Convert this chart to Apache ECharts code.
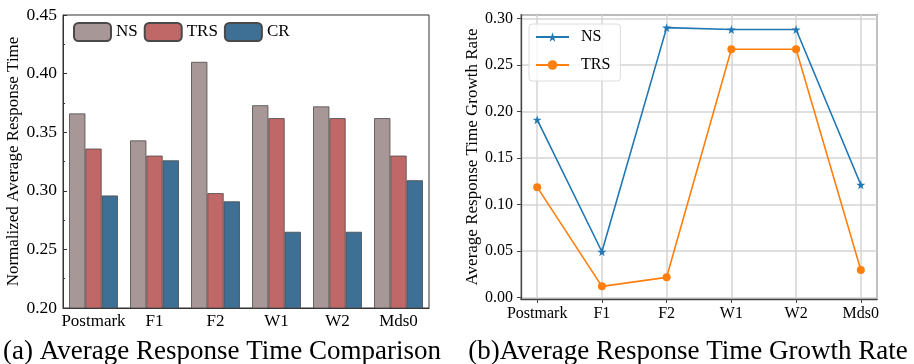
<!DOCTYPE html>
<html>
<head>
<meta charset="utf-8">
<script src="https://cdn.jsdelivr.net/npm/echarts@6/dist/echarts.min.js"></script>
<style>
  html, body { margin: 0; padding: 0; background: #fff; }
  #chart { width: 914px; height: 364px; }
</style>
</head>
<body>
<div id="chart"></div>
<script>
// data
const workloads = ['Postmark', 'F1', 'F2', 'W1', 'W2', 'Mds0'];

// (a) normalized average response time
const nsTime = [0.366, 0.343, 0.410, 0.373, 0.372, 0.362];
const trsTime = [0.336, 0.330, 0.298, 0.362, 0.362, 0.330];
const crTime = [0.296, 0.326, 0.291, 0.265, 0.265, 0.309];

// (b) growth rate
const nsGrowth = [0.191, 0.049, 0.290, 0.288, 0.288, 0.121];
const trsGrowth = [0.1185, 0.0118, 0.0215, 0.2667, 0.2667, 0.0294];

const serif = '"Liberation Serif", "Times New Roman", serif';
const starPath = 'path://M50,0 L61,35 L98,35 L68,57 L79,91 L50,70 L21,91 L32,57 L2,35 L39,35 Z';

const barStyle = (color) => ({
  color: color,
  borderColor: '#4a4a4a',
  borderWidth: 0.8,
});

// growth chart uses a value x axis so the points can sit inset from the frame
const asPoints = (arr) => arr.map((v, i) => [i, v]);
const isStep = (v, step) => Math.abs(v / step - Math.round(v / step)) < 1e-6;

const chart = echarts.init(document.getElementById('chart'));

chart.setOption({
  animation: false,
  textStyle: { fontFamily: serif },
  title: [
    {
      text: '(a) Average Response Time Comparison',
      left: 217, top: 333, textAlign: 'center',
      textStyle: { fontFamily: serif, fontSize: 27, fontWeight: 'normal', color: '#000' },
    },
    {
      text: '(b)Average Response Time Growth Rate',
      left: 683, top: 333, textAlign: 'center',
      textStyle: { fontFamily: serif, fontSize: 27, fontWeight: 'normal', color: '#000' },
    },
  ],
  legend: [
    {
      data: ['NS', 'TRS', 'CR'],
      left: 73, top: 22, padding: 0,
      itemWidth: 37, itemHeight: 18, itemGap: 6,
      textStyle: { fontFamily: serif, fontSize: 17, color: '#000' },
    },
    {
      data: ['NS ', 'TRS '],
      orient: 'vertical',
      left: 529, top: 24,
      padding: [5, 6, 8, 6],
      itemWidth: 33, itemHeight: 12, itemGap: 12,
      borderColor: '#dcdcdc', borderWidth: 1, borderRadius: 3,
      backgroundColor: 'rgba(255,255,255,0.8)',
      textStyle: { fontFamily: serif, fontSize: 16, color: '#000', padding: [0, 0, 0, 7] },
    },
  ],
  grid: [
    { left: 63, top: 15, width: 366, height: 293, show: true, borderColor: '#333', borderWidth: 1 },
    { left: 521, top: 15, width: 356, height: 284, show: true, borderColor: '#444', borderWidth: 1.3 },
  ],
  xAxis: [
    {
      gridIndex: 0,
      type: 'category',
      data: workloads,
      axisLine: { lineStyle: { color: '#333', width: 1 } },
      axisTick: { show: false },
      axisLabel: { fontFamily: serif, fontSize: 17, color: '#000', margin: 5, interval: 0 },
    },
    {
      gridIndex: 1,
      type: 'value',
      min: -0.25, max: 5.25,
      axisLine: { onZero: false, lineStyle: { color: '#444', width: 1.3 } },
      axisTick: { show: true, inside: false, length: 4, lineStyle: { color: '#444' } },
      axisLabel: {
        fontFamily: serif, fontSize: 16, color: '#000', margin: 7,
        showMinLabel: false, showMaxLabel: false,
        formatter: (v) => (isStep(v, 1) ? workloads[Math.round(v)] || '' : ''),
      },
      splitLine: { show: true, lineStyle: { color: '#d4d4d4', width: 1.5 } },
    },
  ],
  yAxis: [
    {
      gridIndex: 0,
      type: 'value',
      min: 0.2, max: 0.45, interval: 0.05,
      name: 'Normalized Average Response Time',
      nameLocation: 'middle', nameGap: 37,
      nameTextStyle: { fontFamily: serif, fontSize: 17, color: '#000' },
      axisLine: { show: true, lineStyle: { color: '#333', width: 1 } },
      axisTick: { show: true, inside: true, length: 4, lineStyle: { color: '#333' } },
      minorTick: { show: true, splitNumber: 2, length: 2, lineStyle: { color: '#333' } },
      axisLabel: { fontFamily: serif, fontSize: 17.5, color: '#000', margin: 6, formatter: (v) => v.toFixed(2) },
      splitLine: { show: false },
    },
    {
      gridIndex: 1,
      type: 'value',
      min: -0.0018, max: 0.3036, splitNumber: 6,
      name: 'Average Response Time Growth Rate',
      nameLocation: 'middle', nameGap: 38,
      nameTextStyle: { fontFamily: serif, fontSize: 17, color: '#000' },
      axisLine: { show: true, onZero: false, lineStyle: { color: '#444', width: 1.3 } },
      axisTick: { show: true, length: 4, lineStyle: { color: '#444' } },
      axisLabel: {
        fontFamily: serif, fontSize: 16, color: '#000', margin: 8,
        showMinLabel: false, showMaxLabel: false,
        formatter: (v) => (isStep(v, 0.05) ? v.toFixed(2) : ''),
      },
      splitLine: { show: true, lineStyle: { color: '#d4d4d4', width: 1.5 } },
    },
  ],
  series: [
    { name: 'NS', type: 'bar', xAxisIndex: 0, yAxisIndex: 0, data: nsTime,
      barGap: '0%', barCategoryGap: '20%', itemStyle: barStyle('#a79797') },
    { name: 'TRS', type: 'bar', xAxisIndex: 0, yAxisIndex: 0, data: trsTime,
      barGap: '0%', barCategoryGap: '20%', itemStyle: barStyle('#c06868') },
    { name: 'CR', type: 'bar', xAxisIndex: 0, yAxisIndex: 0, data: crTime,
      barGap: '0%', barCategoryGap: '20%', itemStyle: barStyle('#3e6f94') },
    { name: 'NS ', type: 'line', xAxisIndex: 1, yAxisIndex: 1, data: asPoints(nsGrowth),
      symbol: starPath, symbolSize: 9,
      lineStyle: { color: '#1f77b4', width: 1.6 }, itemStyle: { color: '#1f77b4' } },
    { name: 'TRS ', type: 'line', xAxisIndex: 1, yAxisIndex: 1, data: asPoints(trsGrowth),
      symbol: 'circle', symbolSize: 8,
      lineStyle: { color: '#ff7f0e', width: 1.6 }, itemStyle: { color: '#ff7f0e' } },
  ],
});
</script>
</body>
</html>
